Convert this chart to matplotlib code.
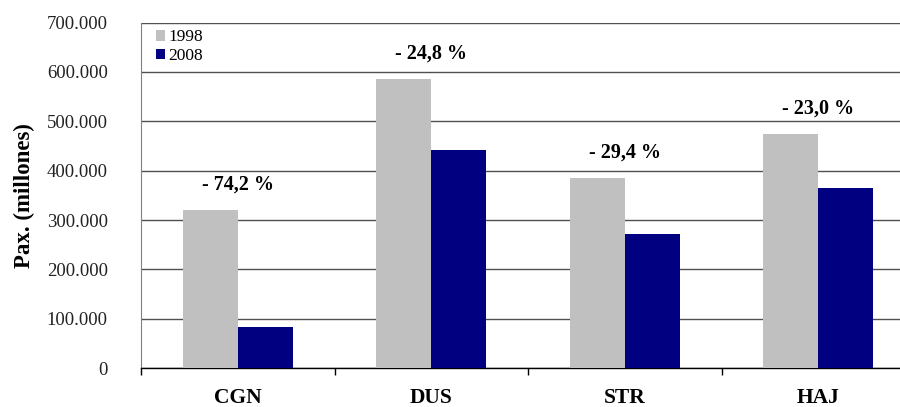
import matplotlib
matplotlib.use("Agg")
import matplotlib.pyplot as plt
from matplotlib.ticker import FuncFormatter
import numpy as np

airports = ["CGN", "DUS", "STR", "HAJ"]
years = ["1998", "2008"]
pax_1998 = [321000, 586000, 386000, 474000]
pax_2008 = [83000, 441000, 272000, 365000]
change_labels = ["- 74,2 %", "- 24,8 %", "- 29,4 %", "- 23,0 %"]

colors = ["#C0C0C0", "#000080"]
serif = ["Liberation Serif", "DejaVu Serif"]
plt.rcParams["font.family"] = serif

fig = plt.figure(figsize=(9, 4.07), dpi=100)
ax = fig.add_axes([0.1567, 0.0951, 0.86, 0.8496])

x = np.arange(len(airports))
w = 0.285
ax.bar(x - w / 2, pax_1998, w, color=colors[0], label=years[0], zorder=3)
ax.bar(x + w / 2, pax_2008, w, color=colors[1], label=years[1], zorder=3)

for xi, top, txt in zip(x, pax_1998, change_labels):
    ax.annotate(txt, (xi, top), xytext=(0, 11), textcoords="offset points",
                ha="center", va="bottom", fontsize=14.5, fontweight="bold")

ax.set_xlim(-0.5, len(airports) - 0.5)
ax.set_ylim(0, 700000)
ax.set_yticks(np.arange(0, 700001, 100000))
ax.yaxis.set_major_formatter(FuncFormatter(lambda v, p: "0" if v == 0 else f"{int(v):,}".replace(",", ".")))
ax.grid(axis="y", color="#505050", linewidth=1.0, zorder=0)
ax.tick_params(axis="y", length=0, pad=24, labelsize=13.5, labelcolor="#222222")

ax.set_xticks(x)
ax.set_xticklabels(airports, fontsize=15.5, fontweight="bold")
ax.tick_params(axis="x", which="major", length=0, pad=14)
ax.set_xticks(np.arange(-0.5, len(airports)), minor=True)
ax.tick_params(axis="x", which="minor", length=5, width=1, color="black", direction="out")

for s in ["top", "right"]:
    ax.spines[s].set_visible(False)
ax.spines["left"].set_color("#808080")
ax.spines["bottom"].set_color("black")
ax.spines["bottom"].set_linewidth(1.0)

ax.set_ylabel("Pax. (millones)", fontsize=16.5, fontweight="bold")
ax.yaxis.set_label_coords(-0.137, 0.5)

ax.legend(loc="upper left", bbox_to_anchor=(0.01, 1.0), frameon=False,
          fontsize=12.5, handlelength=0.55, handleheight=0.55, handletextpad=0.2,
          labelspacing=0.15, borderaxespad=0.0)

fig.savefig("out.png", dpi=100)
